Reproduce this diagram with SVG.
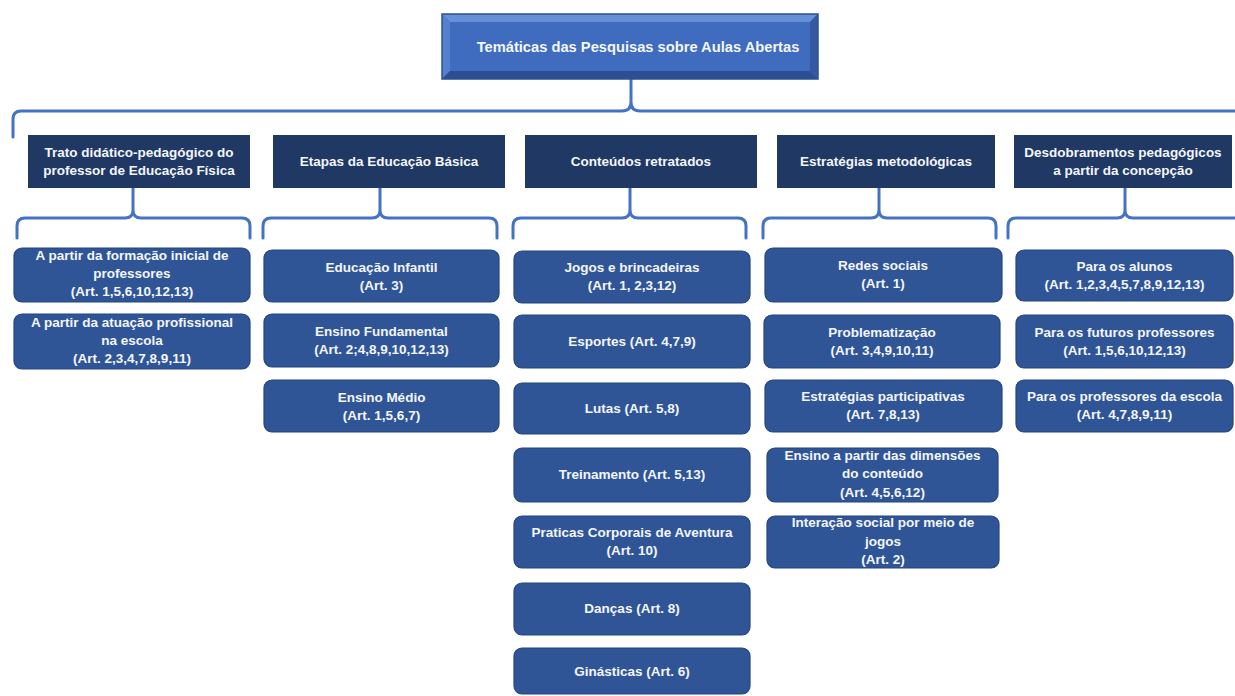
<svg xmlns="http://www.w3.org/2000/svg" width="1235" height="696" viewBox="0 0 1235 696">
<style>
.t{font-family:"Liberation Sans",Arial,sans-serif;font-weight:bold;font-size:13.5px;fill:#F4F6FA;text-anchor:middle}
.hd{fill:#1F3864}
.bx{fill:#2F5597;stroke:#24467F;stroke-width:1.2}
.br{fill:none;stroke:#4472C4;stroke-width:3;stroke-linecap:round;stroke-linejoin:round}
</style>
<rect width="1235" height="696" fill="#FFFFFF"/>
<g id="connectors">
<path class="br" d="M631,79 V102 M13,137 V119 Q13,111 21,111 H622 Q631,111 631,102 Q631,111 640,111 H1240"/>
<path class="br" d="M133,188 V210 M17,238 V226 Q17,218 25,218 H125 Q133,218 133,210 Q133,218 141,218 H242 Q250,218 250,226 V238"/>
<path class="br" d="M380,188 V210 M263,238 V226 Q263,218 271,218 H372 Q380,218 380,210 Q380,218 388,218 H489 Q497,218 497,226 V238"/>
<path class="br" d="M630,188 V210 M513,238 V226 Q513,218 521,218 H622 Q630,218 630,210 Q630,218 638,218 H738 Q746,218 746,226 V238"/>
<path class="br" d="M879,188 V210 M763,238 V226 Q763,218 771,218 H871 Q879,218 879,210 Q879,218 887,218 H988 Q996,218 996,226 V238"/>
<path class="br" d="M1125,188 V210 M1008,238 V226 Q1008,218 1016,218 H1117 Q1125,218 1125,210 Q1125,218 1133,218 H1240"/>
</g>
<g id="title">
<rect x="442" y="14" width="376" height="65" fill="#3F6CBF"/>
<polygon points="442,14 818,14 810,22 450,22" fill="#6690D8"/>
<polygon points="442,14 450,22 450,71 442,79" fill="#5580CE"/>
<polygon points="442,79 450,71 810,71 818,79" fill="#2A4F92"/>
<polygon points="818,14 818,79 810,71 810,22" fill="#34599E"/>
<rect x="442" y="14" width="376" height="65" fill="none" stroke="#2F528F" stroke-width="1.5"/>
<text class="t" x="638" y="52" style="font-size:14.7px">Temáticas das Pesquisas sobre Aulas Abertas</text>
</g>
<g id="h1"><rect class="hd" x="28" y="135" width="222" height="53"/><text class="t" x="139" y="157">Trato didático-pedagógico do</text><text class="t" x="139" y="175">professor de Educação Física</text></g>
<g id="h2"><rect class="hd" x="273" y="135" width="232" height="53"/><text class="t" x="389" y="166">Etapas da Educação Básica</text></g>
<g id="h3"><rect class="hd" x="525" y="135" width="232" height="53"/><text class="t" x="641" y="166">Conteúdos retratados</text></g>
<g id="h4"><rect class="hd" x="777" y="135" width="218" height="53"/><text class="t" x="886" y="166">Estratégias metodológicas</text></g>
<g id="h5"><rect class="hd" x="1014" y="135" width="218" height="53"/><text class="t" x="1123" y="157">Desdobramentos pedagógicos</text><text class="t" x="1123" y="175">a partir da concepção</text></g>

<g id="c1a"><rect class="bx" x="14" y="248" width="236" height="54" rx="8"/><text class="t" x="132" y="260">A partir da formação inicial de</text><text class="t" x="132" y="278">professores</text><text class="t" x="132" y="296">(Art. 1,5,6,10,12,13)</text></g>
<g id="c1b"><rect class="bx" x="14" y="314" width="236" height="55" rx="8"/><text class="t" x="132" y="327">A partir da atuação profissional</text><text class="t" x="132" y="345">na escola</text><text class="t" x="132" y="363">(Art. 2,3,4,7,8,9,11)</text></g>

<g id="c2a"><rect class="bx" x="264" y="250" width="235" height="52" rx="8"/><text class="t" x="381.5" y="272">Educação Infantil</text><text class="t" x="381.5" y="290">(Art. 3)</text></g>
<g id="c2b"><rect class="bx" x="264" y="314" width="235" height="53" rx="8"/><text class="t" x="381.5" y="336">Ensino Fundamental</text><text class="t" x="381.5" y="354">(Art. 2;4,8,9,10,12,13)</text></g>
<g id="c2c"><rect class="bx" x="264" y="380" width="235" height="52" rx="8"/><text class="t" x="381.5" y="402">Ensino Médio</text><text class="t" x="381.5" y="420">(Art. 1,5,6,7)</text></g>

<g id="c3a"><rect class="bx" x="514" y="251" width="236" height="52" rx="8"/><text class="t" x="632" y="272">Jogos e brincadeiras</text><text class="t" x="632" y="290">(Art. 1, 2,3,12)</text></g>
<g id="c3b"><rect class="bx" x="514" y="315" width="236" height="53" rx="8"/><text class="t" x="632" y="346">Esportes (Art. 4,7,9)</text></g>
<g id="c3c"><rect class="bx" x="514" y="383" width="236" height="51" rx="8"/><text class="t" x="632" y="413">Lutas (Art. 5,8)</text></g>
<g id="c3d"><rect class="bx" x="514" y="448" width="236" height="54" rx="8"/><text class="t" x="632" y="479">Treinamento (Art. 5,13)</text></g>
<g id="c3e"><rect class="bx" x="514" y="516" width="236" height="52" rx="8"/><text class="t" x="632" y="537">Praticas Corporais de Aventura</text><text class="t" x="632" y="555">(Art. 10)</text></g>
<g id="c3f"><rect class="bx" x="514" y="583" width="236" height="52" rx="8"/><text class="t" x="632" y="613">Danças (Art. 8)</text></g>
<g id="c3g"><rect class="bx" x="514" y="648" width="236" height="46" rx="8"/><text class="t" x="632" y="676">Ginásticas (Art. 6)</text></g>

<g id="c4a"><rect class="bx" x="765" y="248" width="237" height="54" rx="8"/><text class="t" x="883" y="270">Redes sociais</text><text class="t" x="883" y="288">(Art. 1)</text></g>
<g id="c4b"><rect class="bx" x="764" y="315" width="236" height="53" rx="8"/><text class="t" x="882" y="337">Problematização</text><text class="t" x="882" y="355">(Art. 3,4,9,10,11)</text></g>
<g id="c4c"><rect class="bx" x="765" y="380" width="237" height="52" rx="8"/><text class="t" x="883" y="401">Estratégias participativas</text><text class="t" x="883" y="419">(Art. 7,8,13)</text></g>
<g id="c4d"><rect class="bx" x="767" y="448" width="231" height="54" rx="8"/><text class="t" x="882.5" y="460">Ensino a partir das dimensões</text><text class="t" x="882.5" y="478">do conteúdo</text><text class="t" x="882.5" y="497">(Art. 4,5,6,12)</text></g>
<g id="c4e"><rect class="bx" x="767" y="516" width="232" height="52" rx="8"/><text class="t" x="883" y="527">Interação social por meio de</text><text class="t" x="883" y="546">jogos</text><text class="t" x="883" y="564">(Art. 2)</text></g>

<g id="c5a"><rect class="bx" x="1016" y="250" width="217" height="51" rx="8"/><text class="t" x="1124.5" y="271">Para os alunos</text><text class="t" x="1124.5" y="289">(Art. 1,2,3,4,5,7,8,9,12,13)</text></g>
<g id="c5b"><rect class="bx" x="1016" y="315" width="217" height="53" rx="8"/><text class="t" x="1124.5" y="337">Para os futuros professores</text><text class="t" x="1124.5" y="355">(Art. 1,5,6,10,12,13)</text></g>
<g id="c5c"><rect class="bx" x="1016" y="380" width="217" height="52" rx="8"/><text class="t" x="1124.5" y="401">Para os professores da escola</text><text class="t" x="1124.5" y="419">(Art. 4,7,8,9,11)</text></g>
</svg>
